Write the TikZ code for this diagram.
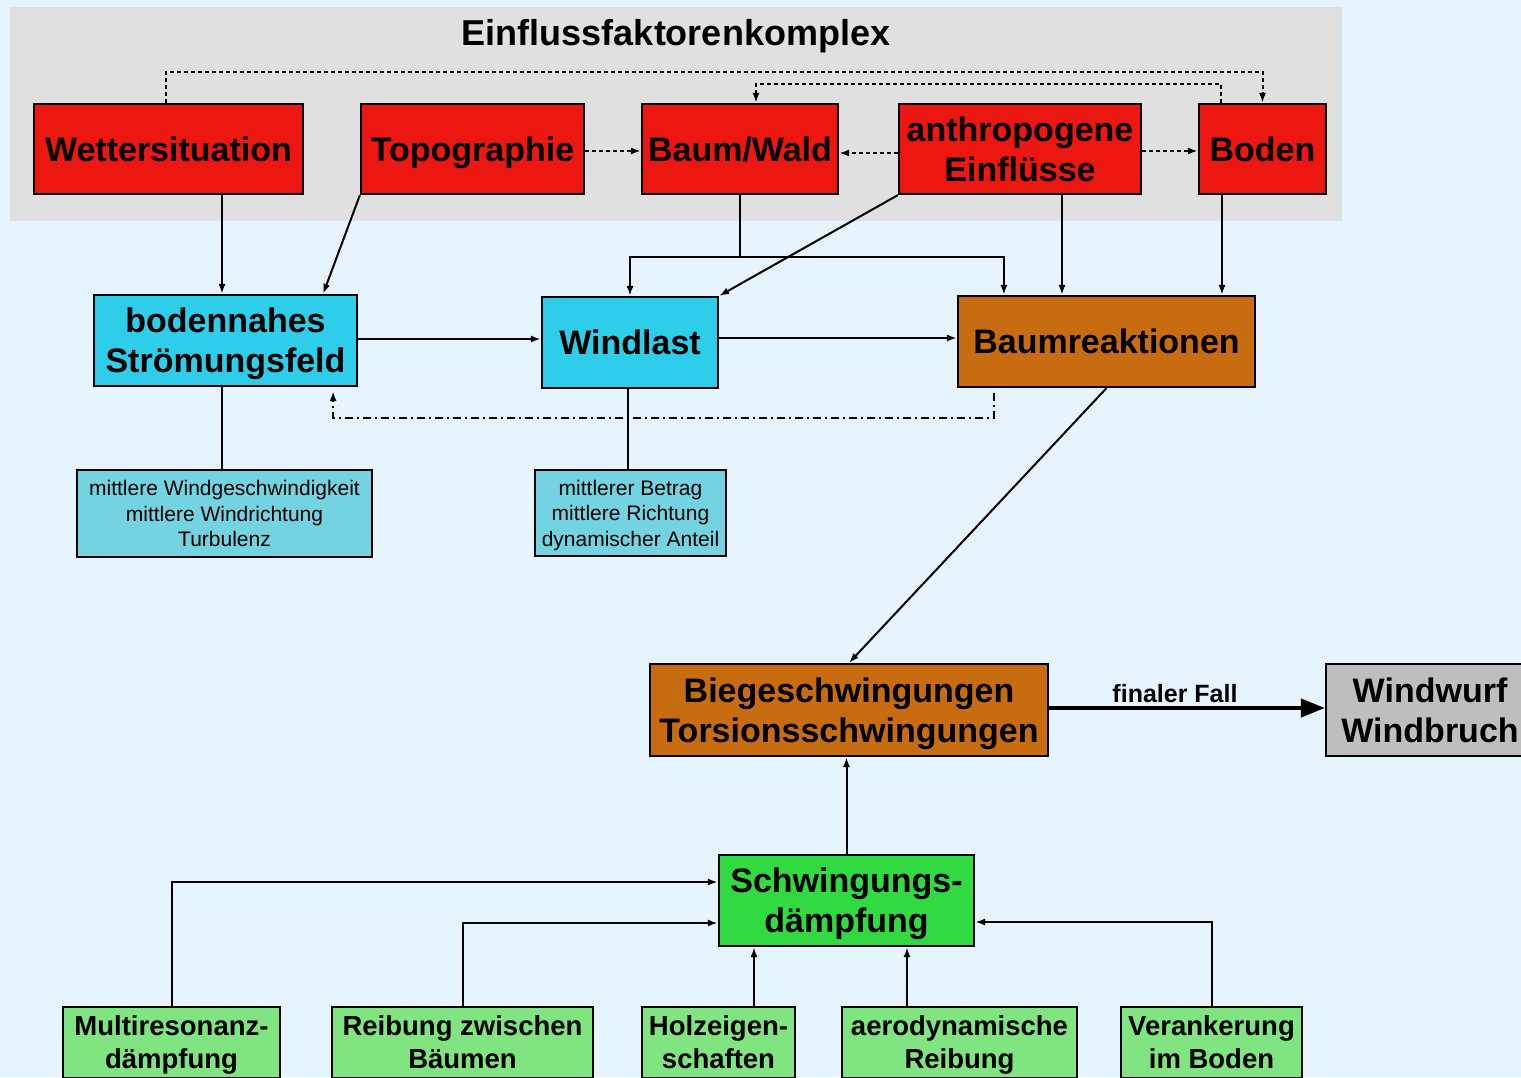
\documentclass[tikz,border=0pt]{standalone}
\usepackage{fontspec}
\setmainfont{Liberation Sans}
\usetikzlibrary{arrows.meta,positioning,calc}
\definecolor{skyback}{RGB}{230,244,253}
\definecolor{panelgrey}{RGB}{224,224,224}
\definecolor{factred}{RGB}{235,23,16}
\definecolor{windcyan}{RGB}{46,205,234}
\definecolor{infocyan}{RGB}{116,211,224}
\definecolor{treeorange}{RGB}{200,108,18}
\definecolor{endgrey}{RGB}{190,190,190}
\definecolor{dampgreen}{RGB}{49,218,64}
\definecolor{leafgreen}{RGB}{128,228,128}
\newcommand\titlefont{\fontsize{36}{40}\selectfont\bfseries}
\newcommand\boxfont{\fontsize{34}{40}\selectfont\bfseries}
\newcommand\lowfont{\fontsize{27.5}{33}\selectfont\bfseries}
\newcommand\infofont{\fontsize{21}{25.5}\selectfont}
\newcommand\labfont{\fontsize{25}{30}\selectfont\bfseries}

\begin{document}
\begin{tikzpicture}[x=1pt,y=-1pt,
    box/.style={draw=black,line width=2.2pt,align=center,inner sep=0pt,font=\boxfont,text depth=-3pt},
    factor/.style={box,fill=factred,minimum height=90pt},
    infobox/.style={box,fill=infocyan,font=\infofont,text depth=-6pt},
    lowbox/.style={box,fill=leafgreen,font=\lowfont,minimum height=71pt,text depth=-2pt},
    arr/.style={line width=2pt,-{Latex[length=10pt,width=7pt]}},
    link/.style={line width=2pt},
    dots/.style={arr,dash pattern=on 4pt off 3pt},
    dashdots/.style={arr,dash pattern=on 8pt off 4pt on 2pt off 4pt},
    fatarrow/.style={line width=4pt,-{Triangle[length=24pt,width=18pt]}}]
  \useasboundingbox (0,0) rectangle (1521,1077);
  \fill[skyback] (0,0) rectangle (1521,1077);
  \clip (0,0) rectangle (1521,1077);

  % Einflussfaktoren
  \fill[panelgrey] (10,7) rectangle (1342,221);
  \node[font=\titlefont] (title) at (676,36) {Einflussfaktorenkomplex};
  \foreach \name/\x/\w/\txt in {wetter/168.5/269/Wettersituation,topo/472.5/223/Topographie,
      baum/740/196/{Baum/Wald},anthro/1020/242/{anthropogene\\Einflüsse},boden/1262.5/127/Boden}
    \node[factor,minimum width=\w] (\name) at (\x,149) {\txt};

  % mittlere Ebene
  \node[box,fill=windcyan,minimum width=263pt,minimum height=91pt] (stroem) at (225.5,340.5) {bodennahes\\Strömungsfeld};
  \node[box,fill=windcyan,minimum width=176pt,minimum height=91pt] (windlast) at (630,342.5) {Windlast};
  \node[box,fill=treeorange,minimum width=297pt,minimum height=91pt] (reakt) at (1106.5,341.5) {Baumreaktionen};
  \node[infobox,minimum width=295pt,minimum height=87pt] (info1) at (224.5,513.5)
    {mittlere Windgeschwindigkeit\\mittlere Windrichtung\\Turbulenz};
  \node[infobox,minimum width=191pt,minimum height=86pt] (info2) at (630.5,513)
    {mittlerer Betrag\\mittlere Richtung\\dynamischer Anteil};

  % Schwingungen
  \node[box,fill=treeorange,minimum width=398pt,minimum height=92pt] (biege) at (849,710) {Biegeschwingungen\\Torsionsschwingungen};
  \node[box,fill=endgrey,minimum width=208pt,minimum height=92pt] (windwurf) at (1430,710) {Windwurf\\Windbruch};
  \node[box,fill=dampgreen,minimum width=255pt,minimum height=91pt] (schwing) at (846.5,900.5) {Schwingungs-\\dämpfung};
  \foreach \name/\x/\w/\txt in {multi/171.5/217/{Multiresonanz-\\dämpfung},reib/462.5/261/{Reibung zwischen\\Bäumen},
      holz/718.5/153/{Holzeigen-\\schaften},aero/959.5/235/{aerodynamische\\Reibung},veran/1211.5/181/{Verankerung\\im Boden}}
    \node[lowbox,minimum width=\w] (\name) at (\x,1042.5) {\txt};

  % gepunktete Wechselwirkungen
  \draw[dots] ([xshift=-2.5pt]wetter.north) -- ++(0,-31) -| (boden.north);
  \draw[dots] ([xshift=23pt]boden.north west) -- ++(0,-19) -| ([xshift=16pt]baum.north);
  \draw[dots] ([yshift=-2pt]topo.east) -- ([yshift=-2pt]topo.east -| baum.west);
  \draw[dots] ([yshift=-4pt]anthro.west) -- ([yshift=-4pt]anthro.west -| baum.east);
  \draw[dots] ([yshift=-2pt]anthro.east) -- ([yshift=-2pt]anthro.east -| boden.west);

  % Einfluesse nach unten
  \draw[arr] ([xshift=-3.5pt]wetter.south -| stroem.north) -- ([xshift=-3.5pt]stroem.north);
  \draw[arr] (topo.south west) -- ([xshift=-35pt]stroem.north east);
  \coordinate (bw) at ($(baum.south)+(0,62)$);
  \draw[link] (baum.south) -- (bw);
  \draw[arr] (bw) -| (windlast.north);
  \draw[arr] (bw) -| ([xshift=47pt]reakt.north west);
  \draw[arr] (anthro.south west) -- (windlast.north east);
  \draw[arr] ([xshift=42pt]anthro.south) -- ([xshift=42pt]anthro.south |- reakt.north);
  \draw[arr] ([xshift=-40.5pt]boden.south) -- ([xshift=-40.5pt]boden.south |- reakt.north);

  \draw[arr] ([yshift=1.5pt]stroem.east) -- ([yshift=1.5pt]stroem.east -| windlast.west);
  \draw[arr] ([yshift=4.5pt]windlast.east) -- ([yshift=4.5pt]windlast.east -| reakt.west);
  \draw[dashdots] ([xshift=37pt,yshift=-5pt]reakt.south west) -- ++(0,25) -| ([xshift=-25pt,yshift=-4pt]stroem.south east);
  \draw[link] ([xshift=-3.5pt]stroem.south) -- ([xshift=-3.5pt]stroem.south |- info1.north);
  \draw[link] ([xshift=-2pt]windlast.south) -- ([xshift=-2pt]windlast.south |- info2.north);

  \draw[arr] (reakt.south) -- (biege.north);
  \draw[fatarrow] ([yshift=2pt]biege.east) -- node[above=3pt,inner sep=0pt,xshift=-12pt,font=\labfont] (fall) {finaler Fall} ([yshift=2pt]windwurf.west);

  % Daempfung
  \draw[arr] (schwing.north) -- (schwing.north |- biege.south);
  \draw[arr] (multi.north) |- ([yshift=18.5pt]schwing.west);
  \draw[arr] (reib.north) |- ([yshift=-22.5pt]schwing.west);
  \draw[arr] ([xshift=35.5pt]holz.north) -- ([xshift=35.5pt]holz.north |- schwing.south);
  \draw[arr] ([xshift=-52.5pt]aero.north) -- ([xshift=-52.5pt]aero.north |- schwing.south);
  \draw[arr] (veran.north) |- ([yshift=-21.5pt]schwing.east);
\end{tikzpicture}
\end{document}
